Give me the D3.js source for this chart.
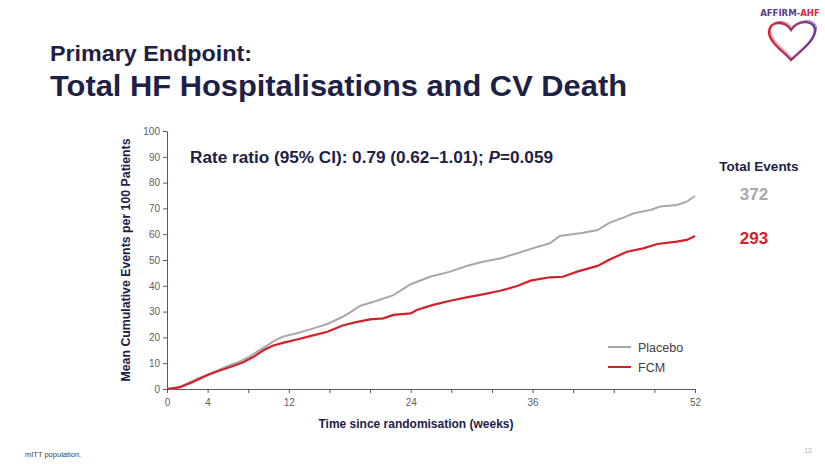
<!DOCTYPE html>
<html>
<head>
<meta charset="utf-8">
<script src="https://cdn.jsdelivr.net/npm/d3@7/dist/d3.min.js"></script>
<style>
  html, body { margin: 0; padding: 0; background: #fff; }
  svg { display: block; font-family: "Liberation Sans", Arial, sans-serif; }
</style>
</head>
<body>
<svg id="chart" width="825" height="464"></svg>
<script>
// Data: weeks vs mean cumulative events per 100 patients
const placeboWeeks = [0, 1, 2, 3, 4, 5, 6, 7, 8, 9, 10, 10.6, 11.4, 12.8, 14.1, 15.8, 17.3, 18, 19, 20.5, 22.3, 24, 25.9, 27.9, 29.5, 31, 32.8, 34.5, 36, 37.7, 38.7, 41, 42.4, 43.6, 45, 45.9, 47.6, 48.6, 50.2, 51.2, 52];
const placeboValues = [0, 0.4, 2.2, 4.0, 5.6, 7.2, 8.9, 10.4, 12.2, 14.8, 17.2, 18.8, 20.3, 21.6, 23.1, 25.2, 28.0, 29.6, 32.2, 34.0, 36.4, 40.6, 43.5, 45.5, 47.7, 49.2, 50.6, 52.6, 54.5, 56.5, 59.3, 60.6, 61.6, 64.5, 66.5, 68.0, 69.4, 70.7, 71.3, 72.6, 74.8];

const fcmWeeks = [0, 1.3, 2.6, 4, 5.2, 6.5, 7.5, 8.5, 9.5, 10.4, 11.4, 12.8, 14.1, 15.8, 17.3, 18.5, 20, 21.3, 22.3, 24, 24.6, 26.2, 27.9, 29.5, 31.1, 32.8, 34.5, 35.8, 37.7, 39, 40.4, 42.4, 43.6, 45.3, 46.9, 48.3, 50.2, 51.2, 52];
const fcmValues = [0, 0.7, 2.8, 5.4, 7.2, 8.9, 10.4, 12.4, 15.0, 16.8, 17.9, 19.2, 20.5, 22.2, 24.6, 25.8, 27.0, 27.4, 28.7, 29.3, 30.6, 32.6, 34.2, 35.5, 36.7, 38.1, 39.9, 42.0, 43.3, 43.5, 45.5, 47.7, 50.2, 53.2, 54.5, 56.2, 57.1, 57.8, 59.3];

const seriesNames = ['Placebo', 'FCM'];
const totalEvents = [372, 293];
const xTickValues = d3.range(0, 53, 4);
const xTickLabels = [0, 4, 12, 24, 36, 52];
const yTickValues = d3.range(0, 101, 10);

const colors = { Placebo: '#a8a8a8', FCM: '#d4202a' };
const navy = '#1e2145';

const svg = d3.select('#chart');
const plot = { left: 167, right: 695, top: 131, bottom: 389 };

const x = d3.scaleLinear().domain([0, 52]).range([plot.left, plot.right]);
const y = d3.scaleLinear().domain([0, 100]).range([plot.bottom, plot.top]);

// Title (slide text is slightly stretched horizontally)
svg.append('text').attr('x', 50).attr('y', 61)
    .attr('font-size', 22.5).attr('font-weight', 700).attr('fill', navy)
    .attr('textLength', 202).attr('lengthAdjust', 'spacingAndGlyphs')
    .text('Primary Endpoint:');
svg.append('text').attr('x', 50).attr('y', 96)
    .attr('font-size', 29).attr('font-weight', 700).attr('fill', navy)
    .attr('textLength', 577).attr('lengthAdjust', 'spacingAndGlyphs')
    .text('Total HF Hospitalisations and CV Death');

// Logo
const logo = svg.append('g');
const lt = logo.append('text').attr('x', 790).attr('y', 16).attr('text-anchor', 'middle')
    .attr('font-size', 9.5).attr('font-weight', 700)
    .attr('font-family', '"DejaVu Sans Condensed", "Liberation Sans Narrow", sans-serif');
lt.append('tspan').attr('fill', '#5a3a8e').text('AFFIRM-');
lt.append('tspan').attr('fill', '#d42a3a').text('AHF');
const grad = svg.append('defs').append('linearGradient').attr('id', 'hg')
    .attr('x1', '0%').attr('y1', '0%').attr('x2', '100%').attr('y2', '0%');
grad.append('stop').attr('offset', '0%').attr('stop-color', '#d8283a');
grad.append('stop').attr('offset', '100%').attr('stop-color', '#6a3a9a');
const heart = 'M791,60 C783,51 768,41 769,31 C770,21 785,20 791,30 C797,20 815,19 815,30 C815,41 800,51 791,60 Z';
logo.append('path').attr('d', heart).attr('fill', 'none').attr('stroke', 'url(#hg)').attr('stroke-width', 2.4);
logo.append('path').attr('d', heart).attr('fill', 'none').attr('stroke', 'url(#hg)').attr('stroke-width', 1)
    .attr('transform', 'translate(1.5,-1.5)').attr('opacity', 0.7);

// Axes
const yAxis = d3.axisLeft(y).tickValues(yTickValues).tickSize(4).tickSizeOuter(0);
const gy = svg.append('g').attr('transform', `translate(${plot.left},0)`).call(yAxis);
const xAxis = d3.axisBottom(x).tickValues(xTickValues).tickSize(4).tickSizeOuter(0)
    .tickFormat(d => xTickLabels.includes(d) ? d : '');
const gx = svg.append('g').attr('transform', `translate(0,${plot.bottom})`).call(xAxis);

[gx, gy].forEach(g => {
    g.select('.domain').attr('stroke', '#595959').attr('stroke-width', 1);
    g.selectAll('.tick line').attr('stroke', '#595959');
    g.selectAll('.tick text').attr('fill', '#606060').attr('font-size', 10)
        .attr('font-family', '"Liberation Sans", Arial, sans-serif');
});
gx.selectAll('.tick text').attr('dy', '0.95em');

// Axis titles
svg.append('text')
    .attr('transform', `translate(130,${(plot.top + plot.bottom) / 2}) rotate(-90)`)
    .attr('text-anchor', 'middle').attr('font-size', 12).attr('font-weight', 700).attr('fill', navy)
    .attr('textLength', 243).attr('lengthAdjust', 'spacingAndGlyphs')
    .text('Mean Cumulative Events per 100 Patients');
svg.append('text').attr('x', 416).attr('y', 428)
    .attr('text-anchor', 'middle').attr('font-size', 12).attr('font-weight', 700).attr('fill', navy)
    .attr('textLength', 195).attr('lengthAdjust', 'spacingAndGlyphs')
    .text('Time since randomisation (weeks)');

// Lines
const line = d3.line().x(d => x(d[0])).y(d => y(d[1]));
const placeboData = placeboWeeks.map((w, i) => [w, placeboValues[i]]);
const fcmData = fcmWeeks.map((w, i) => [w, fcmValues[i]]);

svg.append('path').datum(placeboData).attr('d', line)
    .attr('fill', 'none').attr('stroke', colors.Placebo).attr('stroke-width', 2);
svg.append('path').datum(fcmData).attr('d', line)
    .attr('fill', 'none').attr('stroke', colors.FCM).attr('stroke-width', 2.2);

// Annotation
const rr = svg.append('text').attr('x', 190).attr('y', 163)
    .attr('font-size', 16).attr('font-weight', 700).attr('fill', navy)
    .attr('textLength', 363).attr('lengthAdjust', 'spacingAndGlyphs');
rr.append('tspan').text('Rate ratio (95% CI): 0.79 (0.62\u20131.01); ');
rr.append('tspan').attr('font-style', 'italic').text('P');
rr.append('tspan').text('=0.059');

// Legend
seriesNames.forEach((name, i) => {
    const ly = 347 + i * 20;
    svg.append('line').attr('x1', 608).attr('x2', 631).attr('y1', ly).attr('y2', ly)
        .attr('stroke', colors[name]).attr('stroke-width', 2);
    svg.append('text').attr('x', 638).attr('y', ly + 4.5)
        .attr('font-size', 12.5).attr('fill', '#404040').text(name);
});

// Total events
svg.append('text').attr('x', 759).attr('y', 171).attr('text-anchor', 'middle')
    .attr('font-size', 13.5).attr('font-weight', 700).attr('fill', navy).text('Total Events');
seriesNames.forEach((name, i) => {
    svg.append('text').attr('x', 754).attr('y', 200 + i * 44).attr('text-anchor', 'middle')
        .attr('font-size', 17).attr('font-weight', 700).attr('fill', colors[name])
        .text(totalEvents[i]);
});

// Footer
svg.append('text').attr('x', 25).attr('y', 457).attr('font-size', 7.5).attr('fill', '#404040')
    .text('mITT population.');
svg.append('text').attr('x', 812).attr('y', 453).attr('text-anchor', 'end')
    .attr('font-size', 7).attr('fill', '#b0b0b0').text('12');
</script>
</body>
</html>
